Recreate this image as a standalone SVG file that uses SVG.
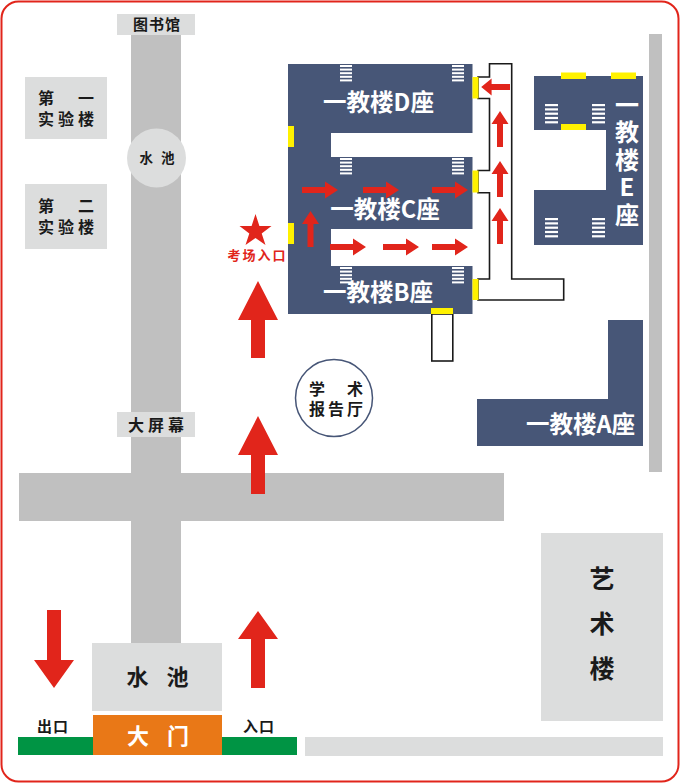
<svg xmlns="http://www.w3.org/2000/svg" xmlns:xlink="http://www.w3.org/1999/xlink" width="680" height="784" viewBox="0 0 680 784">
<style>
text{font-family:"Noto Sans CJK SC","Liberation Sans",sans-serif;font-weight:700;text-anchor:middle;fill:#1a1a1a}
.g{fill:#dcdddd}.r{fill:#c0c0c0}.n{fill:#475677}.y{fill:#fff100}.a{fill:#e1251b}
.w{fill:#fff}.t{fill:#fff;stroke:#1a1a1a;stroke-width:1.6}
text.wt{fill:#fff}
</style>
<defs>
<g id="s5"><rect x="0" y="0" width="12" height="2"/><rect x="0" y="3.6" width="12" height="2"/><rect x="0" y="7.2" width="12" height="2"/><rect x="0" y="10.8" width="12" height="2"/><rect x="0" y="14.4" width="12" height="2"/></g>
<g id="e5"><rect x="0" y="0" width="13" height="2.2"/><rect x="0" y="4.3" width="13" height="2.2"/><rect x="0" y="8.6" width="13" height="2.2"/><rect x="0" y="12.9" width="13" height="2.2"/><rect x="0" y="17.2" width="13" height="2.2"/></g>
<path id="ar" d="M0-3H23V-8.500L36 0 23 8.500V3H0Z"/>
</defs>
<rect x="1.500" y="1.500" width="677" height="780" rx="17" fill="#fff" stroke="#e1251b" stroke-width="2"/>
<g id="roads">
<rect class="r" x="131" y="35" width="50" height="610"/>
<rect class="r" x="19" y="473" width="485" height="48"/>
<rect class="r" x="649" y="34" width="13" height="438"/>
<rect class="g" x="305" y="737" width="358" height="19"/>
</g>
<g id="library"><rect class="g" x="117" y="14" width="78" height="21"/><text x="157" y="30" font-size="15" letter-spacing="1">图书馆</text></g>
<g id="lab1"><rect class="g" x="25" y="77" width="82" height="62"/><text font-size="16"><tspan x="66" y="104" word-spacing="20.500">第 一</tspan><tspan x="68" y="125" letter-spacing="4">实验楼</tspan></text></g>
<g id="lab2"><rect class="g" x="25" y="184" width="82" height="65"/><text font-size="16"><tspan x="66" y="212" word-spacing="20.500">第 二</tspan><tspan x="68" y="233" letter-spacing="4">实验楼</tspan></text></g>
<g id="pond-top"><circle class="g" cx="156.500" cy="158" r="29.500"/><text x="157" y="163" font-size="13.500" word-spacing="5">水 池</text></g>
<g id="screen"><rect class="g" x="117" y="412" width="78" height="25"/><text x="158" y="431" font-size="16" letter-spacing="4">大屏幕</text></g>
<g id="hall"><circle cx="334" cy="398" r="38.500" fill="#fff" stroke="#475677" stroke-width="1.500"/><text font-size="16"><tspan x="336" y="394.500" word-spacing="18.500">学 术</tspan><tspan x="337.500" y="415" letter-spacing="3">报告厅</tspan></text></g>
<g id="art"><rect class="g" x="541" y="533" width="122" height="188"/><text x="602" y="588" font-size="25">艺</text><text x="602" y="633" font-size="25">术</text><text x="602" y="678" font-size="25">楼</text></g>
<g id="pond-gate"><rect class="g" x="92" y="643" width="130" height="68"/><text x="157.500" y="685" font-size="22" word-spacing="13">水 池</text></g>
<g id="gate"><rect fill="#009444" x="18" y="737" width="279" height="18"/><rect fill="#e97817" x="93" y="715" width="129" height="40"/><text class="wt" x="158" y="744" font-size="22" word-spacing="13">大 门</text></g>
<text x="53" y="732" font-size="15" letter-spacing="1">出口</text>
<text x="259" y="732" font-size="15" letter-spacing="1">入口</text>
<g id="tube"><path class="t" d="M489.500 63.800H511.700V279H563.700V300H478V279H489.500V192.700H478V170.500H489.500V98.500H478V77H489.500Z"/><rect class="t" x="431.800" y="314" width="21" height="47"/></g>
<g id="building-bcd"><path class="n" d="M288 64H472.500V133H331V157H472.500V229H331V266H472.500V314H288Z"/>
<g class="w"><use xlink:href="#s5" x="340" y="65"/><use xlink:href="#s5" x="452" y="65"/><use xlink:href="#s5" x="340" y="158"/><use xlink:href="#s5" x="452" y="158"/><use xlink:href="#s5" x="340" y="267"/><use xlink:href="#s5" x="452" y="267"/></g>
<g class="y"><rect x="472.500" y="77" width="6" height="21.500"/><rect x="472.500" y="170.500" width="6" height="22"/><rect x="472.500" y="279" width="6" height="21"/><rect x="431" y="308" width="22" height="6"/><rect x="288" y="126" width="6" height="21"/><rect x="288" y="223" width="6" height="21"/></g>
<text class="wt" x="378.500" y="111" font-size="23.500">一教楼D座</text>
<text class="wt" x="385" y="218" font-size="23.500">一教楼C座</text>
<text class="wt" x="378" y="301" font-size="23.500">一教楼B座</text></g>
<g id="building-e"><path class="n" d="M534 76H643V245H534V190H606V130H534Z"/>
<g class="w"><use xlink:href="#e5" x="545" y="104"/><use xlink:href="#e5" x="592" y="104"/><use xlink:href="#e5" x="545" y="218"/><use xlink:href="#e5" x="592" y="218"/></g>
<g class="y"><rect x="561" y="72.500" width="25" height="6.500"/><rect x="611" y="72.500" width="25" height="6.500"/><rect x="561" y="124" width="25" height="6"/></g>
<text class="wt" x="627" y="161.500" font-size="24" letter-spacing="3.500" style="writing-mode:vertical-rl;text-orientation:upright">一教楼E座</text></g>
<g id="building-a"><path class="n" d="M477 399H608V320H643V446H477Z"/><text class="wt" x="580.500" y="433" font-size="23.500">一教楼A座</text></g>
<g id="connectors" class="a">
<path d="M47 610H61V660H74L54 688 34 660H47Z"/>
<path d="M258 611L278 639H265V688H251V639H238Z"/>
<path d="M258 416L278 455H265V494H251V455H238Z"/>
<path d="M258 281L278 320H265V358H251V320H238Z"/>
<use xlink:href="#ar" x="302" y="190"/><use xlink:href="#ar" x="363" y="190"/><use xlink:href="#ar" x="432" y="190"/>
<use xlink:href="#ar" x="330" y="247"/><use xlink:href="#ar" x="383" y="247"/><use xlink:href="#ar" x="432" y="247"/>
<use xlink:href="#ar" transform="translate(310.500 247) rotate(-90)"/>
<use xlink:href="#ar" transform="translate(500 244) rotate(-90)"/>
<use xlink:href="#ar" transform="translate(500 197) rotate(-90)"/>
<use xlink:href="#ar" transform="translate(500 147) rotate(-90)"/>
<use xlink:href="#ar" transform="translate(510 87) rotate(180) scale(.8 1)"/>
</g>
<g id="exam-entry"><path class="a" d="M255.500 214L259.400 226H271.500L261.700 233.400 265.500 245 255.500 237.900 245.500 245 249.300 233.400 239.500 226H251.600Z"/><text x="257.500" y="260" font-size="13" letter-spacing="2" style="fill:#e1251b">考场入口</text></g>
</svg>
